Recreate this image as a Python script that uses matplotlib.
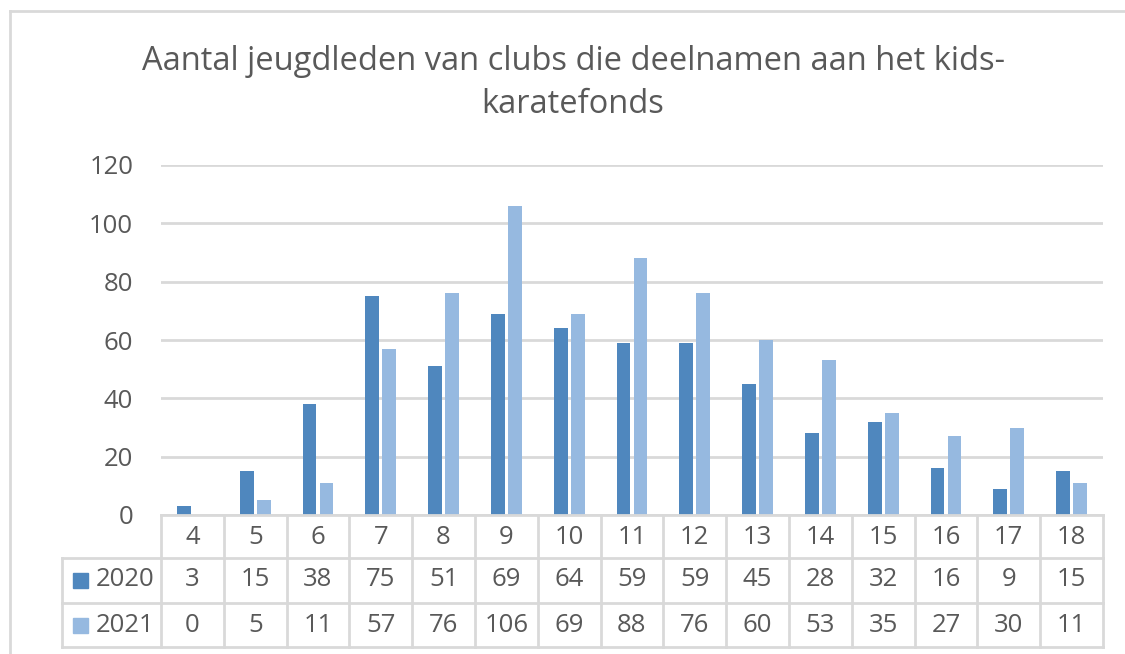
import numpy as np
import matplotlib.pyplot as plt
from matplotlib.transforms import blended_transform_factory
from matplotlib.patches import Rectangle
from matplotlib.lines import Line2D

# data
leeftijd = [4, 5, 6, 7, 8, 9, 10, 11, 12, 13, 14, 15, 16, 17, 18]
jaar_2020 = [3, 15, 38, 75, 51, 69, 64, 59, 59, 45, 28, 32, 16, 9, 15]
jaar_2021 = [0, 5, 11, 57, 76, 106, 69, 88, 76, 60, 53, 35, 27, 30, 11]
series_labels = ["2020", "2021"]
y_ticks = [0, 20, 40, 60, 80, 100, 120]
title = "Aantal jeugdleden van clubs die deelnamen aan het kids-\nkaratefonds"

# styles
col_2020 = "#4f87be"
col_2021 = "#96b9e0"
txt_col = "#595959"
line_col = "#d9d9d9"
fs = 18.5
plt.rcParams['font.family'] = ['Open Sans', 'DejaVu Sans']

W, H = 1125, 654
fig = plt.figure(figsize=(W / 100, H / 100), dpi=100)

def fy(py):
    return 1 - py / H

def fx(px):
    return px / W

ax = fig.add_axes([fx(161), fy(515), fx(1103) - fx(161), fy(165) - fy(515)])
x = np.arange(len(leeftijd))
bw = 0.22
ax.bar(x - 0.135, jaar_2020, width=bw, color=col_2020, zorder=3)
ax.bar(x + 0.135, jaar_2021, width=bw, color=col_2021, zorder=3)
ax.set_xlim(-0.5, len(leeftijd) - 0.5)
ax.set_ylim(0, 120)
ax.set_yticks(y_ticks)
ax.set_xticks([])
for t in y_ticks:
    ax.axhline(t, color=line_col, lw=2, zorder=1)
for s in ax.spines.values():
    s.set_visible(False)
ax.tick_params(axis="y", length=0, pad=20, labelsize=fs, labelcolor=txt_col)

# title
fig.text(fx(573), fy(83), title, ha="center", va="center", fontsize=23.5,
         color=txt_col, linespacing=1.42)

# outer chart border
fig.add_artist(Line2D([fx(10), fx(10)], [fy(11), 0], color=line_col, lw=2))
fig.add_artist(Line2D([fx(10), 1], [fy(11), fy(11)], color=line_col, lw=2))

# data table
tr = blended_transform_factory(ax.transData, fig.transFigure)
y_top, y_r1, y_r2, y_bot = fy(515), fy(558), fy(603), fy(647)
x_l, x_r = -0.5, len(leeftijd) - 0.5
leg_left = fx(62)
ftr = fig.transFigure
# horizontal lines
fig.add_artist(Line2D([x_l, x_r], [y_top, y_top], transform=tr, color=line_col, lw=2))
for yy in (y_r1, y_r2, y_bot):
    fig.add_artist(Line2D([x_l, x_r], [yy, yy], transform=tr, color=line_col, lw=2))
    fig.add_artist(Line2D([leg_left, fx(161)], [yy, yy], transform=ftr, color=line_col, lw=2))
fig.add_artist(Line2D([leg_left, leg_left], [y_r1, y_bot], transform=ftr, color=line_col, lw=2))
# vertical lines
for i in range(len(leeftijd) + 1):
    xx = i - 0.5
    fig.add_artist(Line2D([xx, xx], [y_top, y_bot], transform=tr, color=line_col, lw=2))

row_c = [fy(537), fy(580), fy(625)]
for i, a in enumerate(leeftijd):
    fig.text(i, row_c[0], str(a), transform=tr, ha="center", va="center",
             fontsize=fs, color=txt_col)
    fig.text(i, row_c[1], str(jaar_2020[i]), transform=tr, ha="center", va="center",
             fontsize=fs, color=txt_col)
    fig.text(i, row_c[2], str(jaar_2021[i]), transform=tr, ha="center", va="center",
             fontsize=fs, color=txt_col)

for lab, c, yc in zip(series_labels, [col_2020, col_2021], row_c[1:]):
    fig.add_artist(Rectangle((fx(73), yc - 7.5 / H), 15 / W, 15 / H,
                             transform=ftr, color=c))
    fig.text(fx(96), yc, lab, ha="left", va="center", fontsize=fs, color=txt_col)

fig.savefig("out.png", dpi=100)
